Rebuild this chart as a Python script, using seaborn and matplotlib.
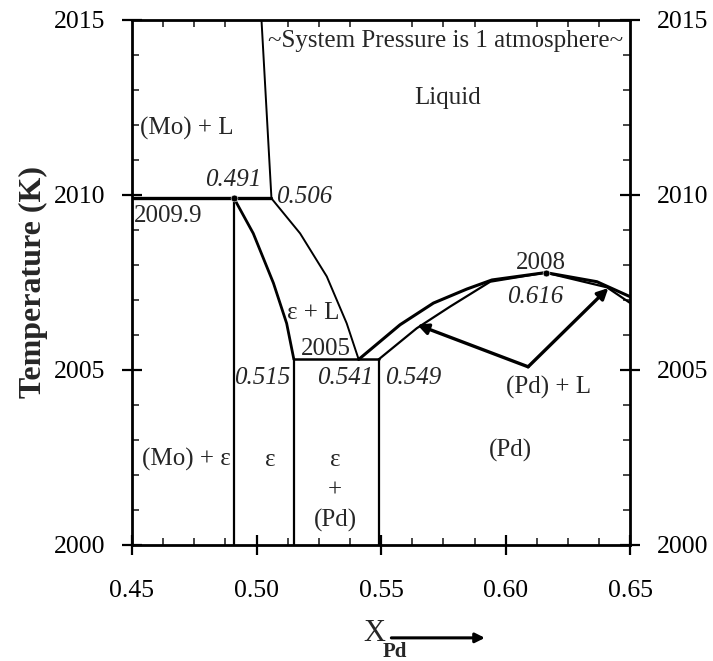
import matplotlib
matplotlib.use("Agg")
import matplotlib.pyplot as plt
import seaborn as sns
import pandas as pd
from matplotlib.ticker import MultipleLocator

# ---------------- data ----------------
x_ticks = [0.45, 0.50, 0.55, 0.60, 0.65]
x_tick_labels = ["0.45", "0.50", "0.55", "0.60", "0.65"]
y_ticks = [2000, 2005, 2010, 2015]
y_tick_labels = ["2000", "2005", "2010", "2015"]

# (Mo)+L / Liquid boundary
liq_mo_x = [0.502, 0.506]
liq_mo_t = [2015.0, 2009.9]
# peritectic line at 2009.9
peri1_x = [0.45, 0.506]
peri1_t = [2009.9, 2009.9]
# epsilon solidus
eps_sol_x = [0.491, 0.4987, 0.5068, 0.5121, 0.515]
eps_sol_t = [2009.9, 2008.90, 2007.48, 2006.33, 2005.3]
# epsilon liquidus
eps_liq_x = [0.506, 0.5175, 0.5282, 0.5362, 0.541]
eps_liq_t = [2009.9, 2008.90, 2007.67, 2006.33, 2005.3]
# line at 2005.3
peri2_x = [0.515, 0.549]
peri2_t = [2005.3, 2005.3]
# vertical solvus lines
vert_x = [0.491, 0.515, 0.549]
vert_top = [2009.9, 2005.3, 2005.3]
# (Pd) liquidus
pd_liq_x = [0.541, 0.5576, 0.5710, 0.5844, 0.5945, 0.616, 0.6366, 0.650]
pd_liq_t = [2005.3, 2006.29, 2006.91, 2007.31, 2007.57, 2007.78, 2007.52, 2007.09]
# (Pd) solidus
pd_sol_x = [0.549, 0.5643, 0.5777, 0.5938, 0.616, 0.6406, 0.650]
pd_sol_t = [2005.3, 2006.19, 2006.81, 2007.52, 2007.78, 2007.36, 2006.91]
# special points
pts_x = [0.491, 0.616]
pts_t = [2009.9, 2007.78]
# tie arrows for (Pd) + L
arrow_base = (0.609, 2005.09)
arrow_tips = [(0.5645, 2006.29), (0.6412, 2007.34)]

# ---------------- plot ----------------
sns.set_theme(style="ticks")
plt.rcParams["font.family"] = ["Liberation Serif", "DejaVu Serif"]

fig, ax = plt.subplots(figsize=(7.13, 6.61), dpi=100)
fig.subplots_adjust(left=0.185, right=0.884, bottom=0.1755, top=0.970)

def draw(xs, ts, lw=1.4):
    df = pd.DataFrame({"x": xs, "T": ts})
    sns.lineplot(data=df, x="x", y="T", sort=False, estimator=None,
                 color="black", lw=lw, ax=ax)

draw(liq_mo_x, liq_mo_t, 1.4)
draw(peri1_x, peri1_t, 2.4)
draw(eps_sol_x, eps_sol_t, 2.0)
draw(eps_liq_x, eps_liq_t, 1.4)
draw(peri2_x, peri2_t, 1.8)
for vx, vt in zip(vert_x, vert_top):
    draw([vx, vx], [2000, vt], 1.6)
draw(pd_liq_x, pd_liq_t, 2.2)
draw(pd_sol_x, pd_sol_t, 1.6)
sns.scatterplot(x=pts_x, y=pts_t, color="black", s=24, ax=ax, zorder=5)

for tip in arrow_tips:
    ax.annotate("", xy=tip, xytext=arrow_base,
                arrowprops=dict(arrowstyle="-|>", color="black", lw=2.4,
                                mutation_scale=16, shrinkA=0, shrinkB=0))

ax.set_xlim(0.45, 0.65)
ax.set_ylim(2000, 2015)
ax.set_xticks(x_ticks)
ax.set_xticklabels(x_tick_labels)
ax.set_yticks(y_ticks)
ax.set_yticklabels(y_tick_labels)
ax.xaxis.set_minor_locator(MultipleLocator(0.0125))
ax.yaxis.set_minor_locator(MultipleLocator(1))
ax.tick_params(which="major", direction="inout", length=14, width=1.6,
               labelsize=18.5, colors="black")
ax.tick_params(axis="y", which="major", pad=12,
               left=True, right=True, labelleft=True, labelright=True)
ax.tick_params(axis="x", which="major", pad=18, bottom=True, top=False)
ax.tick_params(which="minor", direction="in", length=5, width=1.2,
               left=True, right=True, bottom=True, top=True)
for s in ax.spines.values():
    s.set_visible(True)
    s.set_linewidth(2.0)
    s.set_color("black")

ax.set_xlabel("")
ax.set_ylabel("Temperature (K)", fontsize=23, fontweight="bold", labelpad=4)

fs = 18
ax.text(0.576, 2014.4, "~System Pressure is 1 atmosphere~", fontsize=fs, ha="center", va="center")
ax.text(0.5765, 2012.77, "Liquid", fontsize=fs, ha="center", va="center")
ax.text(0.472, 2011.91, "(Mo) + L", fontsize=fs, ha="center", va="center")
ax.text(0.4906, 2010.43, "0.491", fontsize=fs, style="italic", ha="center", va="center")
ax.text(0.519, 2009.94, "0.506", fontsize=fs, style="italic", ha="center", va="center")
ax.text(0.4645, 2009.4, "2009.9", fontsize=fs, ha="center", va="center")
ax.text(0.5227, 2006.63, "ε + L", fontsize=fs, ha="center", va="center")
ax.text(0.528, 2005.6, "2005", fontsize=fs, ha="center", va="center")
ax.text(0.5022, 2004.77, "0.515", fontsize=fs, style="italic", ha="center", va="center")
ax.text(0.5355, 2004.77, "0.541", fontsize=fs, style="italic", ha="center", va="center")
ax.text(0.5628, 2004.77, "0.549", fontsize=fs, style="italic", ha="center", va="center")
ax.text(0.6143, 2008.06, "2008", fontsize=fs, ha="center", va="center")
ax.text(0.6118, 2007.09, "0.616", fontsize=fs, style="italic", ha="center", va="center")
ax.text(0.617, 2004.49, "(Pd) + L", fontsize=fs, ha="center", va="center")
ax.text(0.6018, 2002.71, "(Pd)", fontsize=fs, ha="center", va="center")
ax.text(0.472, 2002.43, "(Mo) + ε", fontsize=fs, ha="center", va="center")
ax.text(0.5054, 2002.43, "ε", fontsize=fs, ha="center", va="center")
ax.text(0.5315, 2002.43, "ε", fontsize=fs, ha="center", va="center")
ax.text(0.5315, 2001.57, "+", fontsize=fs, ha="center", va="center")
ax.text(0.5315, 2000.71, "(Pd)", fontsize=fs, ha="center", va="center")

# x-axis label: X with subscript Pd and arrow
fig.text(0.525, 0.030, "X", fontsize=22, ha="center", va="baseline")
fig.text(0.537, 0.006, "Pd", fontsize=15, fontweight="bold", ha="left", va="baseline")
fig.patches.append(matplotlib.patches.FancyArrowPatch(
    (0.545, 0.035), (0.684, 0.035), transform=fig.transFigure,
    arrowstyle="-|>", mutation_scale=14, lw=2.2, color="black"))

fig.savefig("out.png", dpi=100)
